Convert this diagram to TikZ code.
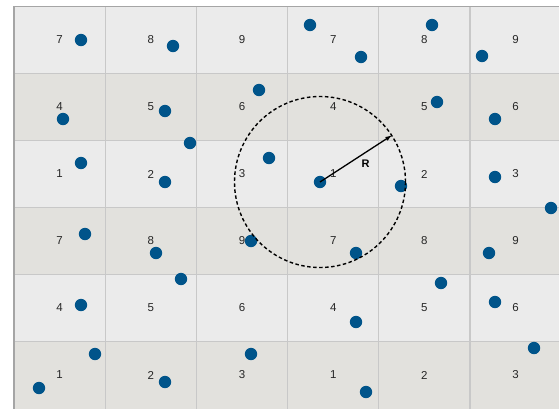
\documentclass[tikz,border=0pt]{standalone}
\usepackage{fontspec}
\setmainfont{Liberation Sans}
\usepackage{tikz}
\usetikzlibrary{arrows.meta, positioning}
\definecolor{RowLight}{RGB}{235, 235, 235}
\definecolor{RowDark}{RGB}{226, 225, 221}
\definecolor{GridGray}{RGB}{200, 200, 200}
\definecolor{EdgeGray}{RGB}{165, 165, 165}
\definecolor{DotBlue}{RGB}{0, 84, 138}

\begin{document}
\begin{tikzpicture}[
    x=1pt, y=-1pt,
    font=\fontsize{11.5}{13}\selectfont,
    dot/.style={circle, fill=DotBlue, inner sep=0pt, minimum size=12.4pt},
    celllabel/.style={inner sep=0pt, text=black!85},
    radiusring/.style={circle, draw=black, dash pattern=on 3.5pt off 2.5pt, line width=1.4pt, inner sep=0pt, minimum size=171pt},
    radarr/.style={-{Latex[length=7pt, width=4.5pt]}, line width=1.3pt, color=black}
]
    \clip (0,0) rectangle (559,408);
    \fill[white] (0,0) rectangle (559,408);

    % Rows
    \foreach \r in {0,...,5} {
        \pgfmathsetmacro\ytop{6.5+67*\r}
        \ifodd\r
            \fill[RowDark] (14,\ytop) rectangle (570,\ytop+67);
        \else
            \fill[RowLight] (14,\ytop) rectangle (570,\ytop+67);
        \fi
    }

    % Grid lines
    \foreach \c in {1,...,5}
        \draw[GridGray, line width=1.3pt] (14+91.2*\c,6.5) -- (14+91.2*\c,410);
    \foreach \r in {1,...,5}
        \draw[GridGray, line width=1.3pt] (14,6.5+67*\r) -- (570,6.5+67*\r);
    \draw[EdgeGray, line width=1.6pt] (14,410) -- (14,6.5) -- (570,6.5);

    % Cell numbers
    \foreach \r in {0,...,5}
        \foreach \c in {0,...,5} {
            \pgfmathtruncatemacro\lab{7-3*mod(\r,3)+mod(\c,3)}
            \node[celllabel] (n\r\c) at (59.6+91.2*\c,40+67*\r) {\lab};
        }

    % Points
    \foreach \px/\py [count=\i] in {
        81/40, 173/46, 310/25, 361/57, 432/25, 482/56,
        63/119, 165/111, 190/143, 259/90, 437/102, 495/119,
        81/163, 165/182, 269/158, 401/186, 495/177, 551/208,
        85/234, 156/253, 181/279, 251/241, 356/253, 489/253, 441/283,
        81/305, 356/322, 495/302, 534/348,
        95/354, 39/388, 165/382, 251/354, 366/392}
        \node[dot] (p\i) at (\px,\py) {};

    % Query point and radius
    \node[dot] (q) at (320,182) {};
    \node[radiusring] (ring) at (q.center) {};
    \draw[radarr] (q.center) -- (ring.33.5);
    \node[font=\rmfamily\bfseries\fontsize{11}{13}\selectfont] (rlab) at (365.5,164) {R};

\end{tikzpicture}
\end{document}
